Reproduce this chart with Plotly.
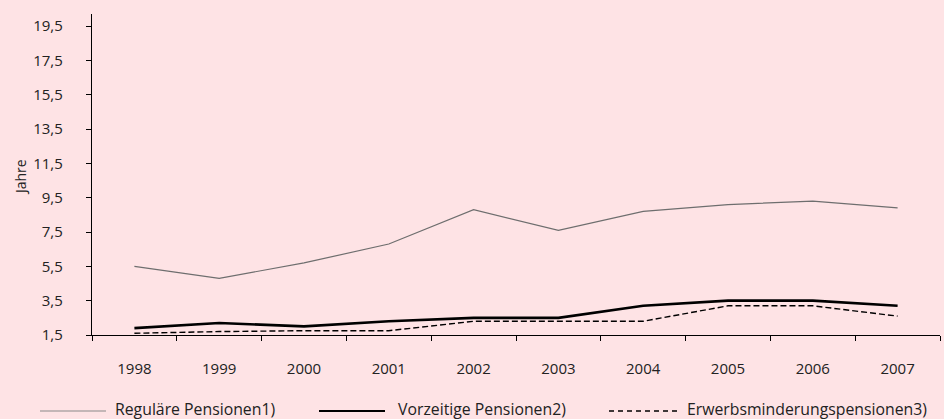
import plotly.graph_objects as go

years = ["1998", "1999", "2000", "2001", "2002", "2003", "2004", "2005", "2006", "2007"]
regulaere = [5.5, 4.8, 5.7, 6.8, 8.8, 7.6, 8.7, 9.1, 9.3, 8.9]
vorzeitige = [1.9, 2.2, 2.0, 2.3, 2.5, 2.5, 3.2, 3.5, 3.5, 3.2]
erwerbsminderung = [1.6, 1.7, 1.75, 1.75, 2.3, 2.3, 2.3, 3.2, 3.2, 2.6]
y_ticks = [1.5, 3.5, 5.5, 7.5, 9.5, 11.5, 13.5, 15.5, 17.5, 19.5]
y_tick_labels = ["1,5", "3,5", "5,5", "7,5", "9,5", "11,5", "13,5", "15,5", "17,5", "19,5"]
series_names = ["Reguläre Pensionen1)", "Vorzeitige Pensionen2)", "Erwerbsminderungspensionen3)"]

BG = "#FEE3E5"
FONT = "Open Sans"
TXT = "#222222"
W, H = 944, 419
ML, MR, MT, MB = 92, 4, 14, 84
PW, PH = W - ML - MR, H - MT - MB

styles = [dict(color="#6e6e6e", width=1.2),
          dict(color="#000000", width=2.6),
          dict(color="#000000", width=1.4, dash="6px,3px")]
values = [regulaere, vorzeitige, erwerbsminderung]

fig = go.Figure()
for name, vals, st in zip(series_names, values, styles):
    fig.add_trace(go.Scatter(x=years, y=vals, mode="lines", name=name, line=st, showlegend=False))

def px_x(x):
    return (x - ML) / PW

def px_y(y):
    return (H - MB - y) / PH

# manual legend (pixel positions in the page)
legend_items = [(40, 106, 114), (319, 385, 397), (609, 677, 686)]
leg_line_y = 411
leg_text_y = 409
shapes = []
annotations = []
for (x0, x1, xt), name, st in zip(legend_items, series_names, styles):
    line = dict(color=st["color"], width=st["width"] if st["width"] < 2 else 2.2)
    if "dash" in st:
        line["dash"] = "5px,4px"
    if st["color"] == "#6e6e6e":
        line["color"] = "#8a8a8a"
    shapes.append(dict(type="line", xref="paper", yref="paper", x0=px_x(x0), x1=px_x(x1),
                       y0=px_y(leg_line_y), y1=px_y(leg_line_y), line=line))
    annotations.append(dict(text=name, xref="paper", yref="paper", x=px_x(xt), y=px_y(leg_text_y),
                            xanchor="left", yanchor="middle", showarrow=False, borderpad=0,
                            font=dict(size=15.8, color=TXT, family=FONT)))

annotations.append(dict(text="Jahre", xref="paper", yref="paper", x=px_x(20.5), y=px_y(177.5),
                        xanchor="center", yanchor="middle", showarrow=False, textangle=-90,
                        font=dict(size=14, color=TXT, family=FONT)))

fig.update_layout(
    width=W, height=H,
    paper_bgcolor=BG, plot_bgcolor=BG,
    margin=dict(l=ML, r=MR, t=MT, b=MB, autoexpand=False),
    font=dict(family=FONT, size=14, color=TXT),
    showlegend=False,
    xaxis=dict(type="category", showgrid=False, showline=True, linecolor="#000000", linewidth=1.3,
               ticks="outside", ticklen=5, tickcolor="#000000", tickson="boundaries",
               tickfont=dict(size=15), ticklabelstandoff=20, zeroline=False,
               range=[-0.5, 9.5]),
    yaxis=dict(range=[1.5, 20.2], tickvals=y_ticks, ticktext=y_tick_labels, showgrid=False,
               showline=True, linecolor="#000000", linewidth=1.3, ticks="outside", ticklen=5,
               tickcolor="#000000", tickfont=dict(size=15), ticklabelstandoff=20, zeroline=False),
    shapes=shapes,
    annotations=annotations,
)

fig.write_html("out.html",
               config={"displayModeBar": False},
               post_script="document.body.style.margin='0';document.body.style.padding='0';"
                           "document.body.style.background='" + BG + "';")
